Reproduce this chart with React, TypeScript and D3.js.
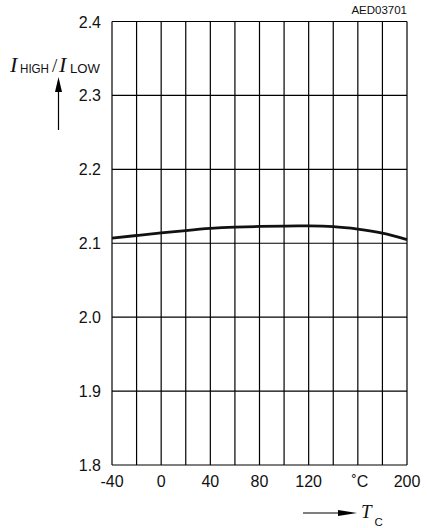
import React from 'react'
import * as d3 from 'd3'

const temps = [-40, -20, 0, 20, 40, 60, 80, 100, 120, 140, 160, 180, 200]
const ratio = [2.107, 2.1105, 2.114, 2.1172, 2.12, 2.1217, 2.1227, 2.1233, 2.1234, 2.1225, 2.1192, 2.1138, 2.105]
const yTicks = [1.8, 1.9, 2.0, 2.1, 2.2, 2.3, 2.4]
const xTickLabels = ['-40', '0', '40', '80', '120']
const xTickValues = [-40, 0, 40, 80, 120]

export default function App() {
  const width = 428, height = 528
  const margin = { top: 21.5, right: 21, bottom: 63, left: 112 }
  const x = d3.scaleLinear().domain([-40, 200]).range([margin.left, width - margin.right])
  const y = d3.scaleLinear().domain([1.8, 2.4]).range([height - margin.bottom, margin.top])
  const line = d3.line<number>().x((_, i) => x(temps[i])).y(d => y(d)).curve(d3.curveNatural)
  const font = '"Liberation Sans", Arial, sans-serif'
  const serif = '"Liberation Serif", "Times New Roman", serif'

  return (
    <svg width={width} height={height} style={{ position: 'absolute', left: 0, top: 0 }}>
      <rect width={width} height={height} fill="#fff" />
      {/* grid */}
      {temps.map(t => (
        <line key={t} x1={x(t)} x2={x(t)} y1={y(2.4)} y2={y(1.8)} stroke="#000" strokeWidth={1.2} />
      ))}
      {yTicks.map(v => (
        <line key={v} x1={x(-40)} x2={x(200)} y1={y(v)} y2={y(v)} stroke="#000" strokeWidth={1.2} />
      ))}
      {/* curve */}
      <path d={line(ratio) || ''} fill="none" stroke="#111" strokeWidth={2.8} />
      {/* y labels */}
      {yTicks.map(v => (
        <text key={v} x={x(-40) - 11} y={y(v) + 6} textAnchor="end" fontFamily={font} fontSize={16} fill="#111">
          {v.toFixed(1)}
        </text>
      ))}
      {/* x labels */}
      {xTickValues.map((v, i) => (
        <text key={v} x={x(v)} y={y(1.8) + 22} textAnchor="middle" fontFamily={font} fontSize={16} fill="#111">
          {xTickLabels[i]}
        </text>
      ))}
      <text x={x(160) + 2} y={y(1.8) + 22} textAnchor="middle" fontFamily={font} fontSize={16} fill="#111">˚C</text>
      <text x={x(200)} y={y(1.8) + 22} textAnchor="middle" fontFamily={font} fontSize={16} fill="#111">200</text>
      {/* code */}
      <text x={x(200)} y={14} textAnchor="end" fontFamily={font} fontSize={11.5} fill="#111">AED03701</text>
      {/* y title */}
      <text x={10} y={72} fontFamily={serif} fontSize={22} fontStyle="italic" fill="#111">I</text>
      <text x={20} y={73} fontFamily={font} fontSize={12.5} fill="#111" textLength={29} lengthAdjust="spacingAndGlyphs">HIGH</text>
      <text x={52} y={72} fontFamily={serif} fontSize={19} fill="#111">/</text>
      <text x={59} y={72} fontFamily={serif} fontSize={22} fontStyle="italic" fill="#111">I</text>
      <text x={70} y={73} fontFamily={font} fontSize={12.5} fill="#111" textLength={30} lengthAdjust="spacingAndGlyphs">LOW</text>
      <line x1={58.5} x2={58.5} y1={130} y2={88} stroke="#000" strokeWidth={1.2} />
      <path d="M58.5,77 L55,92 L62,92 Z" fill="#000" />
      {/* x title */}
      <line x1={303} x2={345} y1={513} y2={513} stroke="#000" strokeWidth={1.2} />
      <path d="M357,513 L338,510 L338,516 Z" fill="#000" />
      <text x={361} y={518} fontFamily={serif} fontSize={19} fontStyle="italic" fill="#111">T</text>
      <text x={374.5} y={526} fontFamily={font} fontSize={11.5} fill="#111">C</text>
    </svg>
  )
}
